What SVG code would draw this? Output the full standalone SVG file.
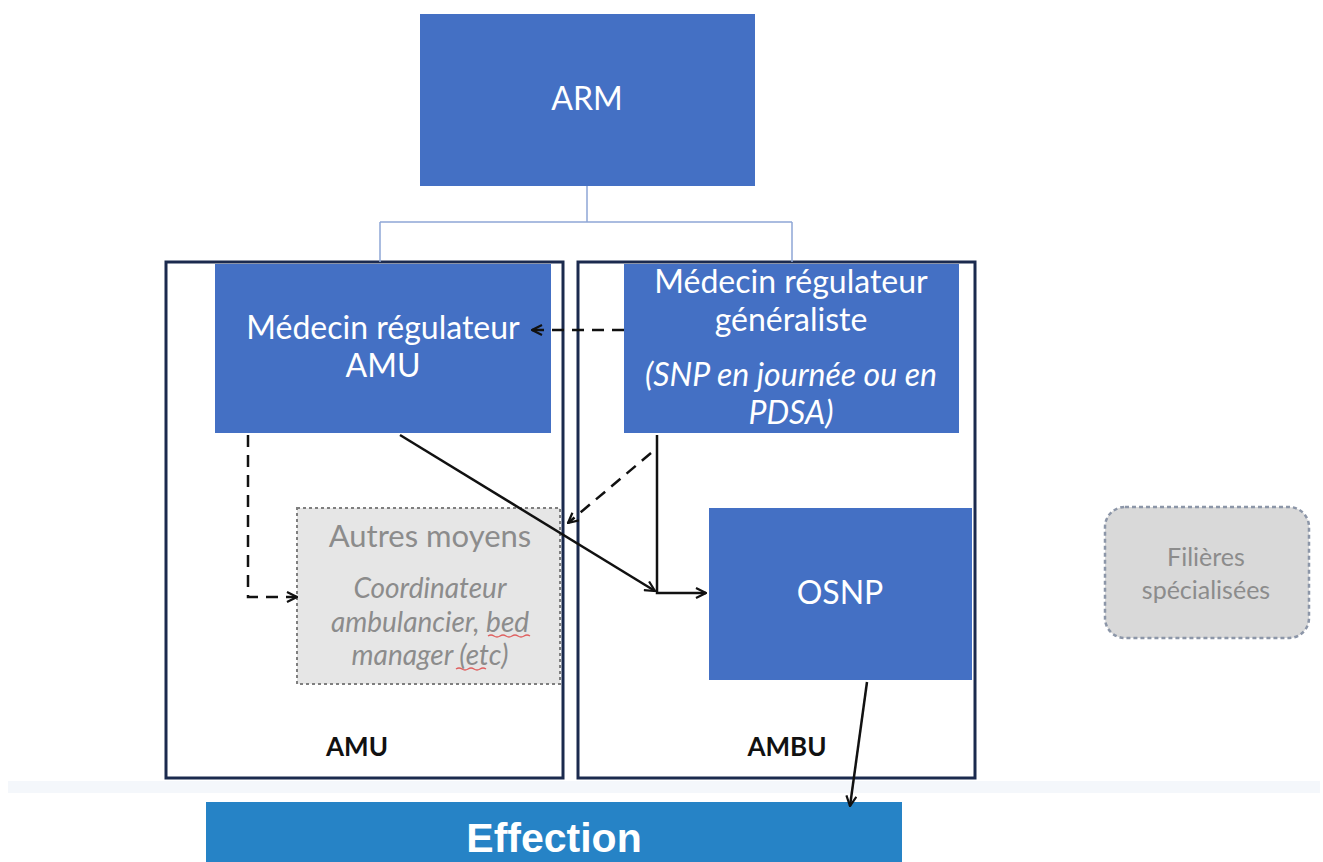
<svg xmlns="http://www.w3.org/2000/svg" width="1323" height="862" viewBox="0 0 1323 862">
<defs>
<style>
.blue{fill:#4470C4;}
.frame{fill:#FFFFFF;stroke:#1B2A4E;stroke-width:3;}
.wt{fill:#FFFFFF;font-family:Lato,"Open Sans",sans-serif;font-size:32px;text-anchor:middle;}
.gt{fill:#8C8C8C;font-family:Lato,"Open Sans",sans-serif;text-anchor:middle;}
.bt{fill:#111111;font-family:Lato,"Open Sans",sans-serif;font-weight:bold;font-size:26px;text-anchor:middle;}
.c{fill:none;stroke:#111111;stroke-width:2.5;}
.d{stroke-dasharray:12 8;}
</style>
<marker id="ah" viewBox="0 0 12 12" refX="11" refY="6" markerWidth="12" markerHeight="12" markerUnits="userSpaceOnUse" orient="auto">
<path d="M1,1 L11,6 L1,11" fill="none" stroke="#111111" stroke-width="2.2"/>
</marker>
</defs>
<rect width="1323" height="862" fill="#FFFFFF"/>
<rect x="8" y="781" width="1312" height="12" fill="#F4F7FB"/>

<g id="frame-amu">
<rect class="frame" x="166" y="262" width="397" height="516"/>
<text class="bt" x="357" y="756">AMU</text>
</g>
<g id="frame-ambu">
<rect class="frame" x="578" y="262" width="397" height="516"/>
<text class="bt" x="787" y="756">AMBU</text>
</g>

<g id="arm">
<rect class="blue" x="420" y="14" width="335" height="172"/>
<text class="wt" x="587" y="110" font-size="30">ARM</text>
</g>

<g id="medecin-amu">
<rect class="blue" x="215" y="264" width="336" height="169"/>
<text class="wt" x="383" y="339">Médecin régulateur</text>
<text class="wt" x="383" y="377">AMU</text>
</g>

<g id="medecin-generaliste">
<rect class="blue" x="624" y="264" width="335" height="169"/>
<text class="wt" x="791" y="293">Médecin régulateur</text>
<text class="wt" x="791" y="331">généraliste</text>
<text class="wt" x="791" y="386" font-style="italic">(SNP en journée ou en</text>
<text class="wt" x="791" y="424" font-style="italic">PDSA)</text>
</g>

<g id="autres-moyens">
<rect x="297" y="508" width="263" height="176" fill="#E6E6E6" stroke="#7F7F7F" stroke-width="2" stroke-dasharray="3 3"/>
<text class="gt" x="430" y="547" font-size="31">Autres moyens</text>
<text class="gt" x="430" y="598" font-size="28" font-style="italic">Coordinateur</text>
<text class="gt" x="430" y="632" font-size="28" font-style="italic">ambulancier, bed</text>
<text class="gt" x="430" y="665" font-size="28" font-style="italic">manager (etc)</text>
<path d="M488,636 q3,-2 6,0 t6,0 t6,0 t6,0 t6,0 t6,0 t6,0" fill="none" stroke="#E06060" stroke-width="1.3"/>
<path d="M456,669 q3,-2 6,0 t6,0 t6,0 t6,0 t6,0" fill="none" stroke="#E06060" stroke-width="1.3"/>
</g>

<g id="osnp">
<rect class="blue" x="709" y="508" width="263" height="172"/>
<text class="wt" x="840" y="604" font-size="30">OSNP</text>
</g>

<g id="filieres">
<rect x="1105" y="507" width="204" height="131" rx="20" ry="20" fill="#D9D9D9" stroke="#8C96A8" stroke-width="2.5" stroke-dasharray="4 3"/>
<text class="gt" x="1206" y="566" font-size="25">Filières</text>
<text class="gt" x="1206" y="599" font-size="25">spécialisées</text>
</g>

<g id="effection">
<rect x="206" y="802" width="696" height="60" fill="#2683C6"/>
<text x="554" y="852" fill="#FFFFFF" font-family="'Liberation Sans',Arial,sans-serif" font-weight="bold" font-size="41" text-anchor="middle">Effection</text>
</g>

<g id="connectors">
<path d="M587,186 V222 M380,222 H792 M380,222 V262 M792,222 V262" fill="none" stroke="#8FA6D6" stroke-width="1.5"/>
<path class="c d" d="M624,330 H532" marker-end="url(#ah)"/>
<path class="c d" d="M248,435 V597 H297" marker-end="url(#ah)"/>
<path class="c" d="M400,435 L655,591" marker-end="url(#ah)"/>
<path class="c d" d="M651,453 L568,523" marker-end="url(#ah)"/>
<path class="c" d="M657,435 V593 H706" marker-end="url(#ah)"/>
<path class="c" d="M867,682 L850,806" marker-end="url(#ah)" stroke-width="2"/>
</g>
</svg>
